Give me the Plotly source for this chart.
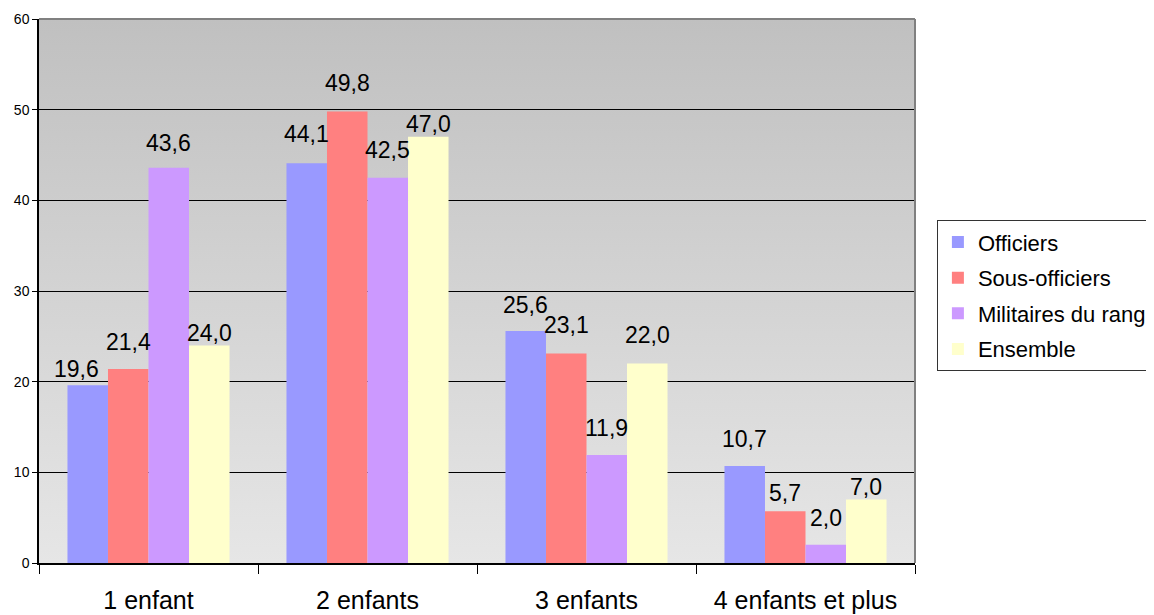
import base64
import plotly.graph_objects as go

categories = ["1 enfant", "2 enfants", "3 enfants", "4 enfants et plus"]
series_names = ["Officiers", "Sous-officiers", "Militaires du rang", "Ensemble"]
officiers = [19.6, 44.1, 25.6, 10.7]
sous_officiers = [21.4, 49.8, 23.1, 5.7]
militaires = [43.6, 42.5, 11.9, 2.0]
ensemble = [24.0, 47.0, 22.0, 7.0]
y_ticks = [0, 10, 20, 30, 40, 50, 60]

# ---- styles ----
colors = ["#9999FF", "#FF8080", "#CC99FF", "#FFFFCC"]
# gap (px) between bar top and label baseline, per series / category (as in the original)
label_gap = [[5, 18, 15, 16],
             [16, 17, 18, 7],
             [14, 17, 16, 16],
             [1, 2, 18, 2]]
label_dx = [[-11, 0, 0, 0], [0, 0, 0, 0], [0, 0, 0, 0], [0, 0, 0, 0]]
FONT = "Liberation Sans, Arial, sans-serif"
BARGAP = 0.26

all_values = [officiers, sous_officiers, militaires, ensemble]

fig = go.Figure()
for name, vals, col in zip(series_names, all_values, colors):
    fig.add_trace(go.Bar(
        name=name, x=categories, y=vals, marker=dict(color=col, line=dict(width=0)),
        legendgroup=name,
    ))

bar_w = (1 - BARGAP) / len(all_values)
annotations = []
for k, vals in enumerate(all_values):
    for i, v in enumerate(vals):
        annotations.append(dict(
            x=i + (k - (len(all_values) - 1) / 2) * bar_w, y=v, xref="x", yref="y",
            text=f"{v:.1f}".replace(".", ","), showarrow=False,
            yanchor="bottom", xanchor="center",
            yshift=label_gap[k][i] - 3, xshift=label_dx[k][i],
            font=dict(family=FONT, size=23, color="black"),
            borderpad=0,
        ))

svg = ('<svg xmlns="http://www.w3.org/2000/svg" width="10" height="100" preserveAspectRatio="none">'
       '<defs><linearGradient id="g" x1="0" y1="0" x2="0" y2="1">'
       '<stop offset="0" stop-color="#C0C0C0"/><stop offset="1" stop-color="#E6E6E6"/>'
       '</linearGradient></defs><rect width="10" height="100" fill="url(#g)"/></svg>')
src = "data:image/svg+xml;base64," + base64.b64encode(svg.encode()).decode()

fig.update_layout(
    width=1146, height=607,
    margin=dict(l=31, r=239, t=11, b=52, autoexpand=False),
    paper_bgcolor="white", plot_bgcolor="rgba(0,0,0,0)",
    separators=", ",
    barmode="group", bargap=BARGAP, bargroupgap=0,
    font=dict(family=FONT, color="black"),
    showlegend=True,
    legend=dict(
        x=1.025, y=0.63, xanchor="left", yanchor="top",
        bgcolor="white", bordercolor="#333333", borderwidth=1,
        font=dict(family=FONT, size=22, color="black"),
        itemwidth=30, tracegroupgap=4,
    ),
    annotations=annotations,
    images=[dict(source=src, xref="paper", yref="paper", x=0, y=1, sizex=1, sizey=1,
                 xanchor="left", yanchor="top", sizing="stretch", layer="below")],
    shapes=[
        dict(type="line", xref="paper", yref="paper", x0=0, x1=1, y0=1, y1=1,
             line=dict(color="#808080", width=2), layer="above"),
        dict(type="line", xref="paper", yref="paper", x0=1, x1=1, y0=0, y1=1,
             line=dict(color="#808080", width=2), layer="above"),
    ],
)
fig.update_yaxes(
    range=[0, 60], tickvals=y_ticks, showgrid=True, gridcolor="black", gridwidth=1,
    showline=True, linecolor="black", linewidth=1.5, ticks="outside", ticklen=5,
    tickcolor="black", tickfont=dict(family=FONT, size=14), zeroline=False,
)
fig.update_xaxes(
    showline=True, linecolor="black", linewidth=1.5, ticks="outside", ticklen=9,
    tickcolor="black", tickson="boundaries", tickfont=dict(family=FONT, size=25),
    ticklabelstandoff=14, showgrid=False,
)
fig.write_html("out.html")
